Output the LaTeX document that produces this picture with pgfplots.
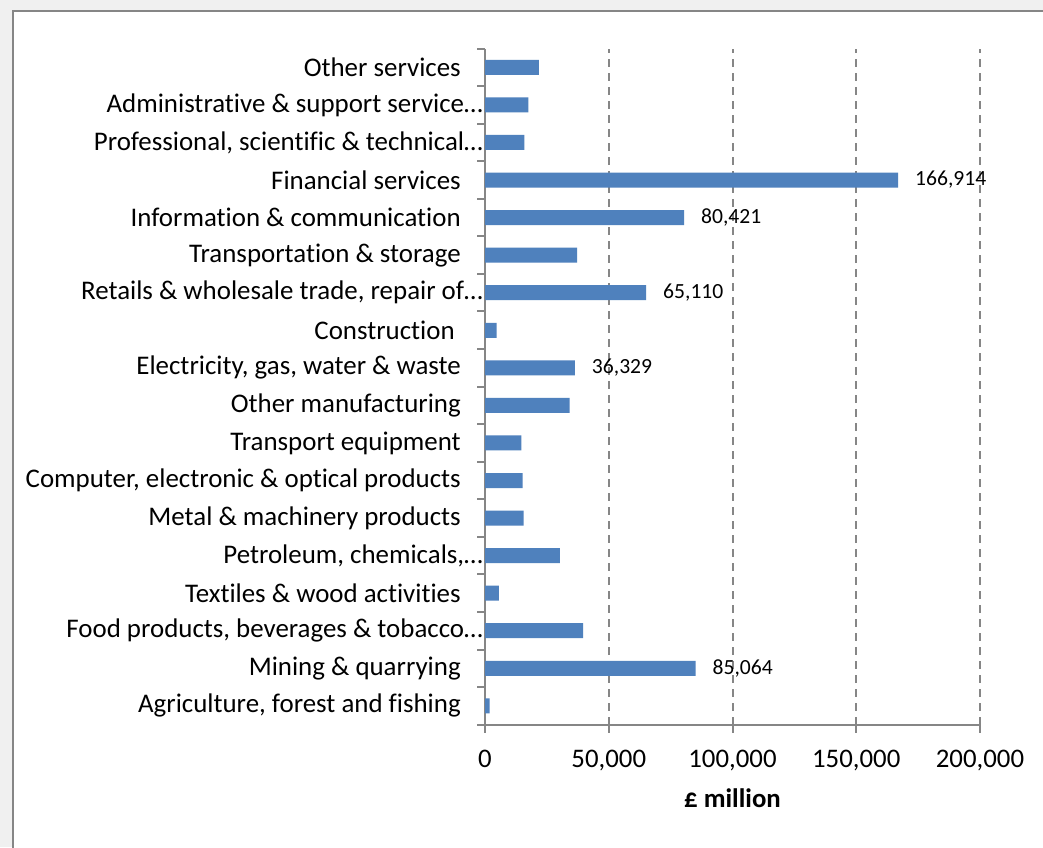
\documentclass[border=0pt]{standalone}
\usepackage{fontspec}
\setmainfont{Carlito}[Ligatures=NoCommon]
\usepackage{pgfplots}
\usepackage{pgfplotstable}
\pgfplotsset{compat=1.18}
\definecolor{barblue}{HTML}{4F81BD}
\definecolor{axgray}{HTML}{868686}
\definecolor{bggray}{HTML}{F0F0F0}
\pgfplotstableread{
pos val label
0 1900 {}
1 85064 {85,064}
2 39600 {}
3 5650 {}
4 30300 {}
5 15600 {}
6 15200 {}
7 14700 {}
8 34200 {}
9 36329 {36,329}
10 4700 {}
11 65110 {65,110}
12 37200 {}
13 80421 {80,421}
14 166914 {166,914}
15 15900 {}
16 17500 {}
17 21800 {}
}\datatable
\begin{document}
\begin{tikzpicture}[x=1pt,y=1pt]
\useasboundingbox (0,0) rectangle (521.5,-423.5);
\begin{scope}
\clip (0,0) rectangle (521.5,-423.5);
\fill[bggray] (0,0) rectangle (521.5,-423.5);
\filldraw[fill=white,draw=axgray,line width=1pt] (6.5,-5.5) rectangle (540,-440);
\end{scope}
\begin{axis}[
  width=247.5pt, height=338pt, scale only axis,
  at={(242.5pt,-362.3pt)}, anchor=south west,
  xmin=0, xmax=200000, ymin=-0.5, ymax=17.5,
  xbar, bar width=7.5pt,
  axis x line*=bottom, axis y line*=left,
  axis line style={draw=axgray, line width=1pt, -},
  tick style={draw=axgray, line width=1pt},
  tick align=outside, major tick length=4pt,
  xtick={0,50000,100000,150000,200000},
  scaled x ticks=false,
  /pgf/number format/fixed,
  /pgf/number format/1000 sep={,},
  /pgf/number format/assume math mode=true,
  xticklabel style={font=\fontsize{13.4}{15}\selectfont, anchor=base, yshift=-17.3pt},
  xmajorgrids,
  grid style={draw=axgray, line width=1pt, dash pattern=on 4pt off 3pt},
  ytick={-0.5,0.5,...,17.5},
  yticklabels={},
  extra y ticks={0,1,...,17},
  extra y tick labels={
    {Agriculture, forest and fishing},
    {Mining \& quarrying},
    {Food products, beverages \& tobacco…\kern-11pt},
    {Textiles \& wood activities},
    {Petroleum, chemicals,…\kern-11pt},
    {Metal \& machinery products},
    {Computer, electronic \& optical products},
    {Transport equipment},
    {Other manufacturing},
    {Electricity, gas, water \& waste},
    {Construction\kern3pt},
    {Retails \& wholesale trade, repair of…\kern-11pt},
    {Transportation \& storage},
    {Information \& communication},
    {Financial services},
    {Professional, scientific \& technical…\kern-11pt},
    {Administrative \& support service…\kern-11pt},
    {Other services}},
  extra y tick style={major tick length=0pt,
    yticklabel style={font=\fontsize{13.45}{15}\selectfont, anchor=east, xshift=-8.6pt}},
  xlabel={£ million},
  xlabel style={at={(axis description cs:0.5,0)}, anchor=base, yshift=-41.3pt,
    font=\bfseries\fontsize{13.4}{15}\selectfont},
]
\addplot[fill=barblue, draw=none, point meta=explicit symbolic,
  nodes near coords,
  nodes near coords style={font=\fontsize{10.8}{13}\selectfont, anchor=west, xshift=5pt, text=black}]
  table[x=val, y=pos, meta=label] {\datatable};
\end{axis}
\end{tikzpicture}
\end{document}
